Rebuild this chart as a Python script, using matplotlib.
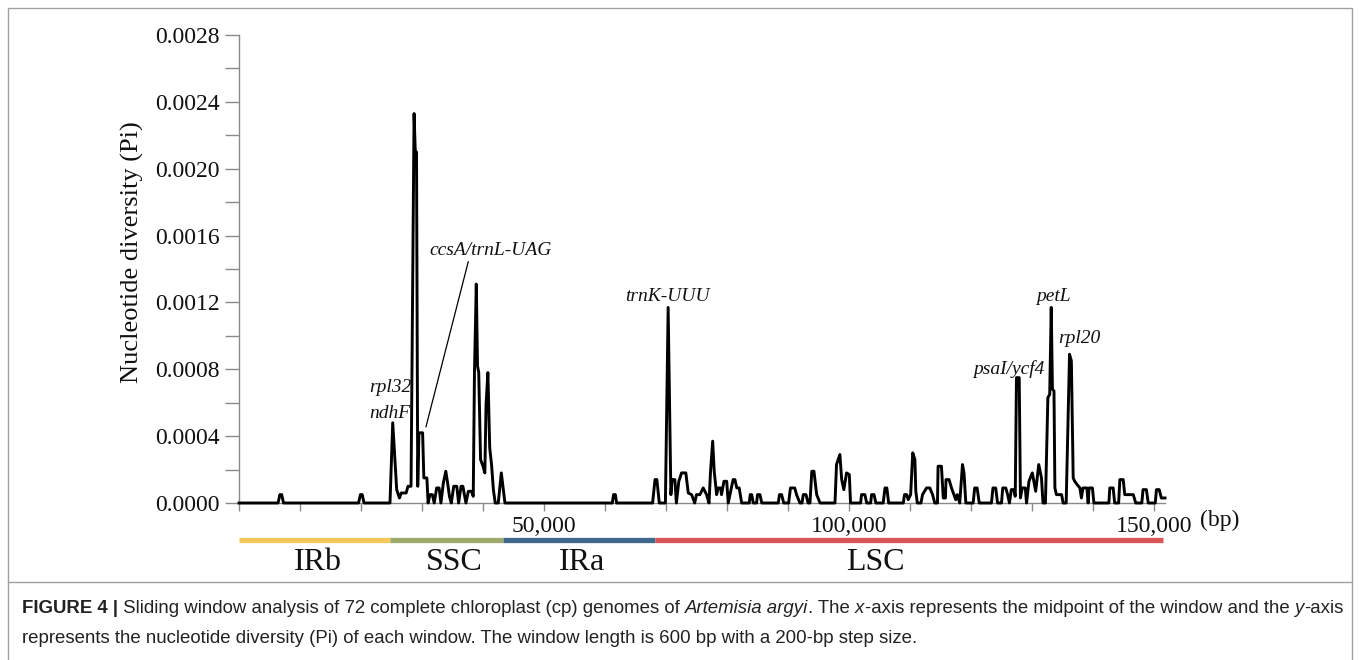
import matplotlib
matplotlib.use("Agg")
import matplotlib.pyplot as plt
from matplotlib.ticker import MultipleLocator, FixedLocator, FuncFormatter
from matplotlib.patches import Rectangle
from matplotlib.lines import Line2D

plt.rcParams['font.family'] = ['Liberation Serif', 'DejaVu Serif']

# sliding window midpoints (bp) and nucleotide diversity
window_pos = [
    0, 6400, 6700, 7000, 7300,
    19600, 19900, 20200, 20500,
    24750, 25200, 25850, 26300, 26600, 27400, 27700, 28200, 28700, 28900, 29100, 29300, 29500, 30100, 30300, 30800,
    31000, 31300, 31700, 32000, 32400, 32800, 33100, 33500, 33900, 34200, 34500, 34800, 35200, 35700, 36000, 36400,
    36700, 37000, 37200, 37600, 38100, 38400,
    38600, 38900, 39100, 39300, 39600, 40000, 40300, 40500, 40800, 41100, 41400, 41700, 42000, 42500, 43000, 43600,
    61200, 61400, 61700, 61900,
    67800, 68200, 68500, 68900,
    69900, 70350, 70800, 71000, 71450, 71700, 72100, 72550, 73250, 73650, 74200, 74700, 75000, 75550, 76100, 76650,
    77050, 77300, 77650, 77900, 78300, 78550, 78950, 79100, 79500, 79950, 80200, 81000, 81300, 81600, 82000, 82400,
    83650, 83800, 84050, 84300, 84850, 85000, 85400, 85700,
    88400, 88600, 88950, 89300, 90100, 90400, 91100, 91400, 91950, 92300, 92500, 92950, 93300, 93600, 93900, 94250,
    94700, 95250,
    97700, 97950, 98500, 98800, 99150, 99600, 100050, 100250,
    101900, 102050, 102600, 102900, 103550, 103700, 104100, 104400,
    105600, 105900, 106200, 106500,
    108900, 109100, 109450, 109700, 110100, 110450, 110800, 110950, 111200,
    111800, 112050, 112700, 113250, 113700, 114050,
    114500, 114600, 115150, 115450, 115800, 115900, 116400, 116800, 117200, 117500, 117750, 118150, 118600, 118850, 119150,
    120350, 120600, 121000, 121350,
    123350, 123600, 124050, 124350,
    125000, 125200, 125700, 126000, 126300, 126600, 127000, 127250, 127450, 127900, 128100, 128400, 128900, 129100,
    129500, 130050, 130300, 130600, 131100, 131550, 131800,
    132200, 132600, 132900, 133150, 133350, 133600, 133750, 134000, 134850, 135100,
    135600, 136150, 136450, 136750, 137000, 137400, 137850, 138100, 138350, 139000, 139200, 139350, 139900, 140150,
    142600, 142750, 143300, 143550,
    144200, 144400, 144950, 145200, 146000, 146600, 147000,
    148000, 148200, 148750, 149050,
    150200, 150400, 150850, 151200, 151800]

pi_values = [
    0, 0, 0.00005, 0.00005, 0,
    0, 0.00005, 0.00005, 0,
    0, 0.00048, 0.00008, 0.00003, 0.00006, 0.00006, 0.0001, 0.0001, 0.00233, 0.0021, 0.0021, 0.0001, 0.00042, 0.00042, 0.00015, 0.00015,
    0, 0.00005, 0.00005, 0, 0.00009, 0.00009, 0, 0.00012, 0.00019, 0.00012, 0.00004, 0, 0.0001, 0.0001, 0, 0.0001,
    0.0001, 0.00004, 0, 0.00007, 0.00007, 0.00004,
    0.00078, 0.00131, 0.00082, 0.00078, 0.00026, 0.00022, 0.00018, 0.00059, 0.00078, 0.00033, 0.00023, 0.00008, 0, 0, 0.00018, 0,
    0, 0.00005, 0.00005, 0,
    0, 0.00014, 0.00014, 0,
    0, 0.00117, 0.00005, 0.00014, 0.00014, 0, 0.00013, 0.00018, 0.00018, 0.00006, 0.00005, 0, 0.00005, 0.00005, 0.00009, 0.00005,
    0, 0.00019, 0.00037, 0.00019, 0.00005, 0.00009, 0.00009, 0.00005, 0.00013, 0.00013, 0, 0.00014, 0.00014, 0.00009, 0.00009, 0,
    0, 0.00005, 0.00005, 0, 0, 0.00005, 0.00005, 0,
    0, 0.00005, 0.00005, 0, 0, 0.00009, 0.00009, 0.00005, 0, 0, 0.00005, 0.00005, 0, 0, 0.00019, 0.00019,
    0.00005, 0,
    0, 0.00023, 0.00029, 0.00014, 0.00008, 0.00018, 0.00017, 0,
    0, 0.00005, 0.00005, 0, 0, 0.00005, 0.00005, 0,
    0, 0.00009, 0.00009, 0,
    0, 0.00005, 0.00005, 0.00002, 0.00005, 0.0003, 0.00026, 0.00007, 0,
    0, 0.00005, 0.00009, 0.00009, 0.00005, 0,
    0, 0.00022, 0.00022, 0.00003, 0.00003, 0.00014, 0.00014, 0.00009, 0.00005, 0.00002, 0.00005, 0, 0.00023, 0.00018, 0,
    0, 0.00009, 0.00009, 0,
    0, 0.00009, 0.00009, 0,
    0, 0.00009, 0.00009, 0.00005, 0, 0.00008, 0.00008, 0.00004, 0.00075, 0.00075, 0.00003, 0.00009, 0.00009, 0,
    0.00013, 0.00018, 0.00013, 0.00007, 0.00023, 0.00015, 0,
    0, 0.00063, 0.00065, 0.00117, 0.00068, 0.00067, 0.00009, 0.00005, 0.00005, 0,
    0, 0.00089, 0.00085, 0.00015, 0.00013, 0.00011, 0.00009, 0.00003, 0.00009, 0.00009, 0, 0.00009, 0.00009, 0,
    0, 0.00009, 0.00009, 0,
    0, 0.00014, 0.00014, 0.00005, 0.00005, 0.00005, 0,
    0, 0.00008, 0.00008, 0,
    0, 0.00008, 0.00008, 0.00003, 0.00003]

# genome regions
region_names = ['IRb', 'SSC', 'IRa', 'LSC']
region_start = [0, 24750, 43200, 68150]
region_end = [24750, 43200, 68150, 151500]
region_label_x = [12950, 35240, 56220, 104400]
region_colors = ['#f6c75a', '#9cab69', '#3f6a8e', '#d95658']

# highly variable loci
gene_labels = ['rpl32', 'ndhF', 'ccsA/trnL-UAG', 'trnK-UUU', 'psaI/ycf4', 'petL', 'rpl20']
gene_x = [28350, 28030, 41220, 70300, 126200, 133580, 137680]
gene_y = [0.000694, 0.000538, 0.001513, 0.001234, 0.0008, 0.001234, 0.000985]
gene_ha = ['right', 'right', 'center', 'center', 'center', 'center', 'center']

W, H = 1360, 660
fig = plt.figure(figsize=(W / 100, H / 100), dpi=100)
ax = fig.add_axes([239 / W, 1 - 503 / H, 926 / W, 468 / H])

ax.plot(window_pos, pi_values, color='black', lw=2.1, clip_on=False, zorder=3)

ax.set_xlim(0, 151800)
ax.set_ylim(0, 0.0028)
ax.spines['top'].set_visible(False)
ax.spines['right'].set_visible(False)
for s in ['left', 'bottom']:
    ax.spines[s].set_color('#8a8a8a')
    ax.spines[s].set_linewidth(1.0)

ax.yaxis.set_major_locator(MultipleLocator(0.0004))
ax.yaxis.set_minor_locator(MultipleLocator(0.0002))
ax.yaxis.set_major_formatter(FuncFormatter(lambda v, p: "%.4f" % v))
ax.xaxis.set_major_locator(FixedLocator([50000, 100000, 150000]))
ax.xaxis.set_minor_locator(MultipleLocator(10000))
ax.xaxis.set_major_formatter(FuncFormatter(lambda v, p: "{:,}".format(int(v))))
ax.tick_params(axis='y', which='both', direction='out', length=10, width=1, color='#8a8a8a',
               labelsize=17, pad=4, labelcolor='#111111')
ax.tick_params(axis='x', which='both', direction='out', length=6, width=1, color='#8a8a8a',
               labelsize=17, pad=3, labelcolor='#111111')

ax.set_ylabel('Nucleotide diversity (Pi)', fontsize=19, color='#111111')
ax.yaxis.set_label_coords(-0.103, 0.536)

ax.text(160800, -0.037, '(bp)', transform=ax.get_xaxis_transform(), ha='center', va='center',
        fontsize=17, color='#111111')

# region bar under the axis
xt = ax.get_xaxis_transform()
for name, a, b, lx, c in zip(region_names, region_start, region_end, region_label_x, region_colors):
    ax.plot([a, b], [-0.079, -0.079], transform=xt, color=c, lw=3.8, solid_capstyle='butt', clip_on=False)
    ax.text(lx, -0.127, name, transform=xt, ha='center', va='center', fontsize=23, color='#111111')

for lab, x, y, ha in zip(gene_labels, gene_x, gene_y, gene_ha):
    ax.text(x, y, lab, style='italic', fontsize=14, ha=ha, va='center', color='#111111')
ax.plot([37580, 30650], [0.001443, 0.000456], color='black', lw=0.9)

# frame and caption
fig.add_artist(Rectangle((8 / W, -0.02), 1344 / W, 1 - 8 / H + 0.02, transform=fig.transFigure,
                         fill=False, edgecolor='#a0a0a0', lw=1))
fig.add_artist(Line2D([8 / W, 1352 / W], [1 - 582 / H] * 2, transform=fig.transFigure,
                      color='#a0a0a0', lw=1))

cap_font = ['Liberation Sans Narrow', 'Liberation Sans', 'DejaVu Sans']
cap_size = 13.4


def caption_line(y, pieces):
    txt, w, st = pieces[0]
    t = fig.text(22 / W, y, txt, fontsize=cap_size, fontweight=w, style=st, va='bottom',
                 family=cap_font, color='#222222')
    for txt, w, st in pieces[1:]:
        t = ax.annotate(txt, xy=(1, 0), xycoords=t, va='bottom', ha='left', fontsize=cap_size,
                        fontweight=w, style=st, family=cap_font, color='#222222', annotation_clip=False)


caption_line(1 - 617 / H, [
    ('FIGURE 4 |', 'bold', 'normal'),
    (' Sliding window analysis of 72 complete chloroplast (cp) genomes of ', 'normal', 'normal'),
    ('Artemisia argyi', 'normal', 'italic'),
    ('. The ', 'normal', 'normal'),
    ('x', 'normal', 'italic'),
    ('-axis represents the midpoint of the window and the ', 'normal', 'normal'),
    ('y', 'normal', 'italic'),
    ('-axis', 'normal', 'normal'),
])
caption_line(1 - 647 / H, [
    ('represents the nucleotide diversity (Pi) of each window. The window length is 600 bp with a 200-bp step size.',
     'normal', 'normal'),
])

fig.savefig('out.png', dpi=100)
